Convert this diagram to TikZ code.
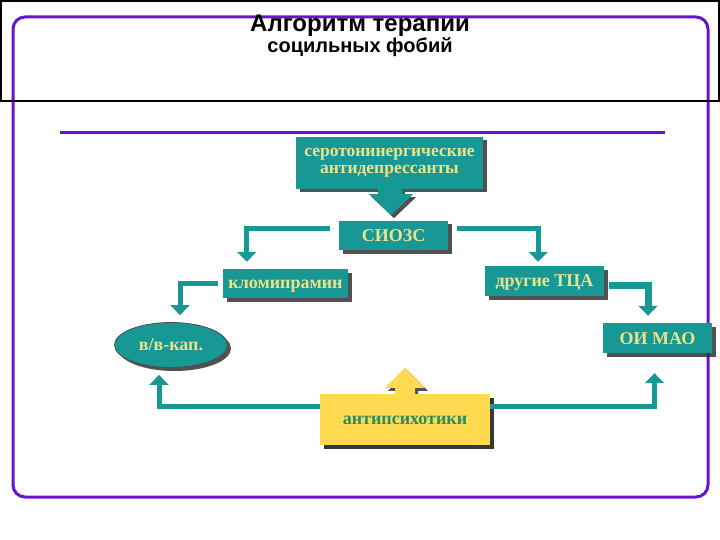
\documentclass[tikz,border=0pt]{standalone}
\usepackage{fontspec}
\setmainfont{Liberation Serif}
\newfontfamily\titlefont{Liberation Sans}
\usetikzlibrary{shapes.geometric,shadows,arrows.meta,calc}
\definecolor{tealc}{RGB}{24,152,148}
\definecolor{textyel}{RGB}{236,226,140}
\definecolor{yelbox}{RGB}{255,217,80}
\definecolor{yeltext}{RGB}{40,140,100}
\definecolor{purp}{RGB}{102,20,210}
\definecolor{shad}{RGB}{50,50,50}
\tikzset{
  tbox/.style={fill=tealc, draw=none, text=textyel, inner sep=0pt,
    font=\fontsize{18}{15}\selectfont\bfseries, align=center,
    drop shadow={shadow xshift=3.5pt, shadow yshift=-3.5pt, fill=shad, opacity=0.85}},
  lowtxt/.style={text height=10.5pt, text depth=0pt},
  captxt/.style={text height=12.5pt, text depth=0pt},
  ybox/.style={tbox, fill=yelbox, text=yeltext},
  conn/.style={draw=tealc, line width=5pt, -{Triangle[width=19pt,length=10pt]}},
}
\begin{document}
\begin{tikzpicture}[x=1pt,y=-1pt]
\useasboundingbox (0,0) rectangle (720,540);
% frames
\draw[purp, line width=3pt, rounded corners=12pt] (13,17) rectangle (708,497);
\draw[black, line width=2pt] (1,1) rectangle (719,101);
\node[font=\titlefont\bfseries\fontsize{24}{26}\selectfont, anchor=base] (t1) at (360,32) {Алгоритм терапии};
\node[font=\titlefont\bfseries\fontsize{20}{22}\selectfont, anchor=base] (t2) at (360,53) {социльных фобий};
\draw[purp, line width=3pt] (60,133) -- (665,133);
% nodes
\node[tbox, minimum width=187pt, minimum height=52pt, font=\fontsize{17.5}{17}\selectfont\bfseries] (top) at (389.5,163) {серотонинергические\\антидепрессанты};
\node[tbox, captxt, minimum width=109pt, minimum height=29pt] (sio) at (393.5,235.5) {СИОЗС};
\node[tbox, lowtxt, minimum width=125pt, minimum height=29pt] (klo) at (285.5,283.5) {кломипрамин};
\node[tbox, lowtxt, minimum width=119pt, minimum height=30pt] (dr) at (544.5,281) {другие ТЦА};
\node[tbox, captxt, minimum width=109pt, minimum height=30pt] (oi) at (657.5,338) {ОИ МАО};
\node[tbox, lowtxt, ellipse, minimum width=113pt, minimum height=45pt, draw=black!70, line width=0.8pt] (ell) at (171,345) {в/в-кап.};
\node[ybox, lowtxt, minimum width=170pt, minimum height=51pt] (yel) at (405,419.5) {антипсихотики};
% block arrows
\fill[tealc, drop shadow={shadow xshift=3pt, shadow yshift=-3pt, fill=shad, opacity=0.85}]
  ($(top.south)+(-11.5,0)$) -- ($(top.south)+(-11.5,5)$) -- ($(top.south)+(-20.5,5)$)
  -- ($(top.south)+(1.5,26)$) -- ($(top.south)+(23.5,5)$) -- ($(top.south)+(12.5,5)$)
  -- ($(top.south)+(12.5,0)$) -- cycle;
\fill[yelbox, drop shadow={shadow xshift=3pt, shadow yshift=-3pt, fill=shad, opacity=0.85}]
  ($(yel.north)+(-10,0)$) -- ($(yel.north)+(-10,-6)$) -- ($(yel.north)+(-20,-6)$)
  -- ($(yel.north)+(0,-26)$) -- ($(yel.north)+(20,-6)$) -- ($(yel.north)+(10,-6)$)
  -- ($(yel.north)+(10,0)$) -- cycle;
\node[ybox, lowtxt, minimum width=170pt, minimum height=51pt] at (yel) {антипсихотики};
% connectors
\draw[conn] ([shift={(-9,-7)}]sio.west) -| ([shift={(24,-7)}]klo.north west);
\draw[conn] ([shift={(9,-7)}]sio.east) -| ([shift={(-66,-4)}]dr.north east);
\draw[conn] ([shift={(-5,0)}]klo.west) -| ([shift={(9,-7)}]ell.north);
\draw[conn, line width=7pt] ([shift={(5,4.5)}]dr.east) -| ([shift={(-9.5,-7)}]oi.north);
\draw[conn] ([shift={(0,-13.5)}]yel.west) -| ([shift={(-12,7)}]ell.south);
\draw[conn] ([shift={(0,-13.5)}]yel.east) -| ([shift={(-3,20)}]oi.south);
\end{tikzpicture}
\end{document}
